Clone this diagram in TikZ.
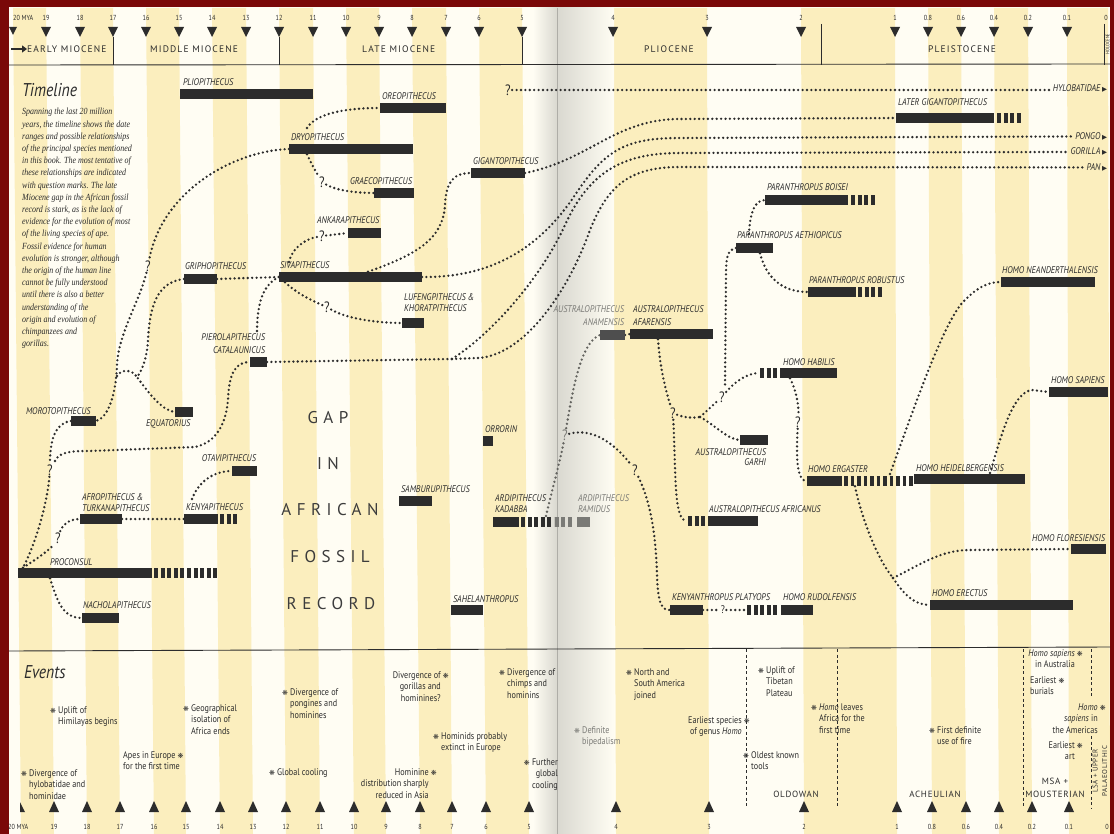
\documentclass[tikz,border=0pt]{standalone}
\usepackage{fontspec}
\setmainfont{PT Sans}
\newfontfamily\labfont[FakeStretch=0.85]{PT Sans}
\newfontfamily\bodyfont[FakeStretch=0.85]{Liberation Serif}
\newfontfamily\capfont[LetterSpace=12]{PT Sans}
\newfontfamily\indfont[LetterSpace=8]{PT Sans}
\newfontfamily\gapfont[LetterSpace=32]{PT Sans}
\newfontfamily\symfont{DejaVu Sans}
\usetikzlibrary{arrows.meta}
\pgfdeclarelayer{back}\pgfdeclarelayer{mid}
\pgfsetlayers{back,mid,main}
\definecolor{ink}{HTML}{2C2C2C}
\definecolor{gapink}{HTML}{3C3C3C}
\definecolor{greyink}{HTML}{7A7A76}
\definecolor{anamcol}{HTML}{4E4E4E}
\definecolor{ylw}{HTML}{FBEEBE}
\definecolor{wht}{HTML}{FFFDF3}
\definecolor{foldc}{HTML}{D9D8D0}
\definecolor{framec}{HTML}{7A0808}
\newcommand{\evs}{{\symfont\fontsize{7}{7}\selectfont\char"274B}}
\newcommand{\tri}{{\symfont\fontsize{6.5}{6.5}\selectfont\char"25B6}}
\newcommand{\Lft}[2][11.8]{\vtop{\baselineskip=#1pt\lineskiplimit=-20pt\lineskip=0pt\halign{##\hfil\cr#2\crcr}}}
\newcommand{\Rgt}[2][11.8]{\vtop{\baselineskip=#1pt\lineskiplimit=-20pt\lineskip=0pt\halign{\hfil##\cr#2\crcr}}}
\newcommand{\Ctr}[2][11.8]{\vtop{\baselineskip=#1pt\lineskiplimit=-20pt\lineskip=0pt\halign{\hfil##\hfil\cr#2\crcr}}}
\newcommand{\mybar}[5][]{\node[barstyle,#1,minimum width={(#4)-(#3)}] (#2) at ({((#3)+(#4))/2},#5) {};}
\begin{document}
\begin{tikzpicture}[x=1pt,y=-1pt,
  barstyle/.style={fill=ink,draw=none,inner sep=0pt,outer sep=0pt,minimum height=10.5pt},
  dashbar/.style={draw=ink,line width=10.5pt,dash pattern=on 4pt off 2.6pt},
  link/.style={draw=ink,line width=2.6pt,line cap=round,dash pattern=on 0pt off 4.4pt},
  lab/.style={inner sep=0pt,outer sep=1pt,font=\labfont\itshape\fontsize{9.7}{11}\selectfont,text=ink,anchor=base west},
  qm/.style={inner sep=1.2pt,font=\labfont\fontsize{15}{15}\selectfont,text=ink},
  ev/.style={inner sep=0pt,font=\labfont\fontsize{9.6}{11.8}\selectfont,text=ink,anchor=base west},
  num/.style={inner sep=0pt,font=\labfont\fontsize{7.3}{7.3}\selectfont,text=ink,anchor=base},
  epoch/.style={inner sep=0pt,font=\capfont\fontsize{9.5}{11}\selectfont,text=ink,anchor=base west},
  indus/.style={inner sep=0pt,font=\indfont\fontsize{9}{11}\selectfont,text=ink,anchor=base},
  gapstyle/.style={inner sep=0pt,font=\gapfont\fontsize{17}{17}\selectfont,text=gapink,anchor=base},
  evline/.style={draw=ink,line width=0.7pt,dash pattern=on 3pt off 2.5pt},
  hrule/.style={draw=ink,line width=0.9pt},
]
\useasboundingbox (0,0) rectangle (1114,834);
\begin{pgfonlayer}{back}
\fill[wht] (0,0) rectangle (1114,834);
\foreach \a/\b/\c/\d in {13/46/21/54,80/113/87/120,146/179/154/186,212/246/220/253,279/313/286/320,346/379/354/386,412/446/420/452,479/522/486/529,613/707/616/709,801/895/804/897,928/961/932/966,994/1028/999/1032,1067/1108/1069/1110}
  \fill[ylw] (\a,8) -- (\b,8) -- (\d,834) -- (\c,834) -- cycle;
\shade[left color=wht,right color=foldc] (533,8) rectangle (557,834);
\shade[left color=foldc,right color=wht] (557,8) rectangle (614,834);
\draw[foldc!80!black,line width=0.5pt] (557,8) -- (557,834);
\end{pgfonlayer}

% frame
\fill[framec] (0,0) rectangle (1114,7);
\fill[framec] (0,0) rectangle (9,834);
\fill[framec] (1110,0) rectangle (1114,834);

% header
\fill[ink] (9,27) -- (17,27) -- (13,35) -- cycle;
\node[num,anchor=base west] (top20) at (13,21) {20 MYA};
\foreach \x/\t [count=\i] in {46/19,80/18,113/17,146/16,179/15,212/14,246/13,279/12,313/11,346/10,379/9,412/8,446/7,479/6,522/5,613/4,707/3,801/2,895/1,928/0.8,961/0.6,994/0.4,1028/0.2,1067/0.1} {
  \fill[ink] (\x-5,27) -- (\x+5,27) -- (\x,37) -- cycle;
  \node[num] (tn\i) at (\x,21) {\t};
}
\node[num] (tn0) at (1106,21) {0};
\draw[hrule] (113,37) -- (113,65);
\draw[hrule] (279,37) -- (279,65);
\draw[hrule] (522,37) -- (522,65);
\draw[hrule] (821,24) -- (821,65);
\draw[hrule] (1104,24) -- (1104,65);
\draw[hrule] (9,65) -- (1110,64);
\node[inner sep=0pt,rotate=90,font=\labfont\fontsize{5}{5}\selectfont,text=ink] (holo) at (1107.5,44) {HOLOCENE};
\coordinate (arrs) at (11,49);
\node[epoch,anchor=west] (early) at (27,49) {EARLY MIOCENE};
\draw[ink,line width=2.2pt,-{Triangle[length=5pt,width=7pt]}] (arrs) -- (early.west);
\node[epoch,anchor=west] (middle) at (150,49) {MIDDLE MIOCENE};
\node[epoch,anchor=west] (late) at (362,49) {LATE MIOCENE};
\node[epoch,anchor=west] (plio) at (644,49) {PLIOCENE};
\node[epoch,anchor=west] (pleist) at (928,49) {PLEISTOCENE};

% separator and bottom scale
\draw[hrule] (9,651) -- (560,649) -- (1110,647);
\fill[ink] (20,812) -- (25,812) -- (20,802) -- cycle;
\node[num,anchor=base west] (bot20) at (8,829) {20 MYA};
\foreach \x/\t [count=\i] in {54/19,87/18,120/17,154/16,186/15,220/14,253/13,286/12,320/11,354/10,386/9,420/8,452/7,486/6,529/5,616/4,709/3,804/2,897/1,932/0.8,966/0.6,999/0.4,1032/0.2,1069/0.1} {
  \fill[ink] (\x-5,812) -- (\x+5,812) -- (\x,801) -- cycle;
  \node[num] (bn\i) at (\x,829) {\t};
}
\node[num] (bn0) at (1107,829) {0};

% titles and text
\node[anchor=base west,inner sep=0pt,font=\labfont\itshape\fontsize{18.5}{18}\selectfont,text=ink] (ttl) at (22,97) {Timeline};
\node[anchor=base west,inner sep=0pt,font=\labfont\itshape\fontsize{18.5}{18}\selectfont,text=ink] (evttl) at (24,678) {Events};
\node[anchor=base west,inner sep=0pt,font=\bodyfont\itshape\fontsize{9.4}{12.2}\selectfont,text=ink] (body) at (22,115) {\Lft[12.2]{Spanning the last 20 million\cr years, the timeline shows the date\cr ranges and possible relationships\cr of the principal species mentioned\cr in this book. The most tentative of\cr these relationships are indicated\cr with question marks. The late\cr Miocene gap in the African fossil\cr record is stark, as is the lack of\cr evidence for the evolution of most\cr of the living species of ape.\cr Fossil evidence for human\cr evolution is stronger, although\cr the origin of the human line\cr cannot be fully understood\cr until there is also a better\cr understanding of the\cr origin and evolution of\cr chimpanzees and\cr gorillas.}};

% gap text
\node[gapstyle] (g1) at (328,423) {GAP};
\node[gapstyle] (g2) at (328,469) {IN};
\node[gapstyle] (g3) at (330,515) {AFRICAN};
\node[gapstyle] (g4) at (330,562) {FOSSIL};
\node[gapstyle] (g5) at (331,609) {RECORD};

% bars
\mybar{plio}{180}{313}{94}
\mybar{oreo}{380}{446}{108}
\mybar{dryo}{289}{413}{149}
\mybar{graeco}{374}{414}{193}
\mybar{giganto}{471}{525}{173}
\mybar{ankara}{348}{381}{233}
\mybar{gripho}{184}{217}{279}
\mybar{siva}{279}{422}{277}
\mybar{lufeng}{402}{424}{323}
\mybar{piero}{250}{267}{362}
\mybar{moroto}{71}{96}{421}
\mybar{equat}{175}{193}{412}
\mybar{otavi}{232}{257}{471}
\mybar{afro}{80}{122}{519}
\mybar{kenya}{184}{218}{519}
\mybar{procon}{18}{152}{573}
\mybar{nachola}{82}{119}{618}
\mybar{orrorin}{483}{493}{441}
\mybar{sambu}{399}{432}{501}
\mybar{sahel}{451}{483}{610}
\mybar{kadabba}{493}{519}{522}
\mybar[fill=greyink]{ramidus}{577}{590}{522}
\mybar[fill=anamcol]{anam}{600}{625}{335}
\mybar{afar}{630}{713}{334}
\mybar{lgig}{896}{994}{118}
\mybar{boisei}{765}{848}{200}
\mybar{aethio}{736}{773}{248}
\mybar{robust}{808}{856}{292}
\mybar{habilis}{780}{837}{373}
\mybar{garhi}{740}{768}{440}
\mybar{african}{708}{758}{521}
\mybar{ergaster}{807}{842}{481}
\mybar{heidel}{914}{1025}{479}
\mybar{neander}{1001}{1095}{282}
\mybar{sapiens}{1049}{1108}{392}
\mybar{flores}{1071}{1106}{549}
\mybar{erectus}{930}{1073}{605}
\mybar{kenyan}{670}{703}{610}
\mybar{rudolf}{781}{813}{610}

% dashed continuations
\draw[dashbar] ([xshift=2pt]procon.east) -- ++(64,0);
\draw[dashbar] ([xshift=2pt]kenya.east) -- ++(18,0);
\draw[dashbar] ([xshift=3pt]lgig.east) -- ++(24,0);
\draw[dashbar] ([xshift=3pt]boisei.east) -- ++(24,0);
\draw[dashbar] ([xshift=2pt]robust.east) -- ++(24,0);
\draw[dashbar] ([xshift=2pt]kadabba.east) -- ++(33,0);
\draw[dashbar,draw=greyink,dash phase=-0.6pt] ([xshift=35pt]kadabba.east) -- ([xshift=-3pt]ramidus.west);
\draw[dashbar] ([xshift=-20pt]habilis.west) -- ([xshift=-2pt]habilis.west);
\draw[dashbar] ([xshift=-20pt]african.west) -- ([xshift=-2pt]african.west);
\draw[dashbar] ([xshift=-34pt]rudolf.west) -- ([xshift=-2pt]rudolf.west);
\draw[dashbar,dash pattern=on 3.6pt off 2.9pt] ([xshift=2pt]ergaster.east) -- ++(70,0);

% labels
\node[lab] (tplio) at (182,86) {PLIOPITHECUS};
\node[lab] (toreo) at (381,100) {OREOPITHECUS};
\node[lab] (tdryo) at (290,141) {DRYOPITHECUS};
\node[lab] (tgraeco) at (349,185) {GRAECOPITHECUS};
\node[lab] (tgiganto) at (472,165) {GIGANTOPITHECUS};
\node[lab] (tankara) at (316,224) {ANKARAPITHECUS};
\node[lab] (tgripho) at (184,270) {GRIPHOPITHECUS};
\node[lab] (tsiva) at (279,269) {SIVAPITHECUS};
\node[lab] (tlufeng) at (403,301) {\Lft[10.5]{LUFENGPITHECUS \&\cr KHORATPITHECUS}};
\node[lab,anchor=base east] (tpiero) at (266,341) {\Rgt[12.3]{PIEROLAPITHECUS\cr CATALAUNICUS}};
\node[lab] (tmoroto) at (25,414) {MOROTOPITHECUS};
\node[lab] (tequat) at (145,426) {EQUATORIUS};
\node[lab,anchor=base east] (totavi) at (257,461) {OTAVIPITHECUS};
\node[lab] (tafro) at (81,500) {\Lft[11]{AFROPITHECUS \&\cr TURKANAPITHECUS}};
\node[lab] (tkenya) at (185,510) {KENYAPITHECUS};
\node[lab] (tprocon) at (49,565) {PROCONSUL};
\node[lab] (tnachola) at (82,608) {NACHOLAPITHECUS};
\node[lab] (torrorin) at (484,432) {ORRORIN};
\node[lab] (tsambu) at (400,492) {SAMBURUPITHECUS};
\node[lab] (tsahel) at (452,602) {SAHELANTHROPUS};
\node[lab] (tkadabba) at (494,501) {\Lft[11.7]{ARDIPITHECUS\cr KADABBA}};
\node[lab,text=greyink] (tramidus) at (577,501) {\Lft[11.7]{ARDIPITHECUS\cr RAMIDUS}};
\node[lab,text=greyink,anchor=base east] (tanam) at (625,313) {\Rgt[12.5]{AUSTRALOPITHECUS\cr ANAMENSIS}};
\node[lab] (tafar) at (632,313) {\Lft[12.5]{AUSTRALOPITHECUS\cr AFARENSIS}};
\node[lab,anchor=base east] (thylo) at (1108,92) {HYLOBATIDAE\,\tri};
\node[lab] (tlgig) at (897,106) {LATER GIGANTOPITHECUS};
\node[lab,anchor=base east] (tpongo) at (1108,139.5) {PONGO\,\tri};
\node[lab,anchor=base east] (tgorilla) at (1108,155) {GORILLA\,\tri};
\node[lab,anchor=base east] (tpan) at (1108,170.5) {PAN\,\tri};
\node[lab] (tboisei) at (766,191) {PARANTHROPUS BOISEI};
\node[lab] (taethio) at (736,239) {PARANTHROPUS AETHIOPICUS};
\node[lab] (trobust) at (808,284) {PARANTHROPUS ROBUSTUS};
\node[lab] (tneander) at (1001,274) {HOMO NEANDERTHALENSIS};
\node[lab] (thabilis) at (782,365) {HOMO HABILIS};
\node[lab] (tsapiens) at (1050,383) {HOMO SAPIENS};
\node[lab,anchor=base east] (tgarhi) at (767,455) {\Rgt[10.7]{AUSTRALOPITHECUS\cr GARHI}};
\node[lab] (tergaster) at (807,472) {HOMO ERGASTER};
\node[lab] (theidel) at (915,471) {HOMO HEIDELBERGENSIS};
\node[lab] (tafrican) at (708,512) {AUSTRALOPITHECUS AFRICANUS};
\node[lab,anchor=base east] (tflores) at (1106,541) {HOMO FLORESIENSIS};
\node[lab] (terectus) at (931,596) {HOMO ERECTUS};
\node[lab] (tkenyan) at (671,600) {KENYANTHROPUS PLATYOPS};
\node[lab] (trudolf) at (782,600) {HOMO RUDOLFENSIS};

% question marks
\node[qm] (q1) at (148,266) {?};
\node[qm] (q2) at (50,470) {?};
\node[qm] (q3) at (58,538) {?};
\node[qm] (q4) at (322,182) {?};
\node[qm] (q5) at (322,236) {?};
\node[qm] (q6) at (327,307) {?};
\node[qm] (q7) at (508,90) {?};
\node[qm,text=greyink] (q8) at (565,435) {?};
\node[qm] (q9) at (635,470) {?};
\node[qm] (q10) at (673,413) {?};
\node[qm] (q11) at (722,397) {?};
\node[qm] (q12) at (798,422) {?};
\node[qm,font=\labfont\fontsize{11}{11}\selectfont] (q13) at (723,610) {?};

% junction points
\coordinate (ja) at (117,376);
\coordinate (jb) at (137,377);
\coordinate (k1) at (55,461);
\coordinate (k2) at (192,499);
\coordinate (s1) at (289,262);
\coordinate (s2) at (257,333);
\coordinate (d1) at (307,128);
\coordinate (j2) at (452,359);
\coordinate (k3) at (546,516);
\coordinate (j3) at (700,417);
\coordinate (hd) at (759,373);
\coordinate (ad) at (687,521);
\coordinate (j4) at (725,387);
\coordinate (a1) at (749,234);
\coordinate (e1) at (890,474);
\coordinate (h1) at (990,473);
\coordinate (j5) at (893,578);
\coordinate (rd) at (746,610);

\begin{pgfonlayer}{mid}
\draw[link] (dryo.west) .. controls (232,151) and (162,192) .. (q1);
\draw[link] (q1) .. controls (140,300) and (118,335) .. (117,365) .. controls (116,395) and (108,418) .. (moroto.east);
\draw[link] (ja) .. controls (121,369) and (132,369) .. (jb);
\draw[link] (gripho.west) .. controls (160,282) and (150,300) .. (148,340) .. controls (147,360) and (141,372) .. (jb) .. controls (150,395) and (163,411) .. (equat.west);
\draw[link] (moroto.west) .. controls (55,423) and (50,440) .. (q2);
\draw[link] (q2) .. controls (47,505) and (35,545) .. ([xshift=5pt]procon.north west);
\draw[link] (k1) .. controls (59,452) and (70,451) .. (90,451) -- (195,447) .. controls (215,443) and (226,425) .. (228,400) .. controls (229,372) and (236,362) .. (piero.west);
\draw[link] ([xshift=5pt]procon.north west) .. controls (35,560) and (50,550) .. (q3);
\draw[link] (q3) .. controls (62,526) and (68,519) .. (afro.west);
\draw[link] (afro.east) -- (kenya.west);
\draw[link] (k2) .. controls (198,483) and (212,471) .. (otavi.west);
\draw[link] ([xshift=32pt]procon.south west) .. controls (57,600) and (62,618) .. (nachola.west);
\draw[link] (gripho.east) -- (siva.west);
\draw[link] (s1) .. controls (292,248) and (305,239) .. (q5);
\draw[link] (q5) -- (ankara.west);
\draw[link] ([xshift=6pt]siva.south west) .. controls (295,292) and (310,300) .. (q6);
\draw[link] (q6) .. controls (345,318) and (375,323) .. (lufeng.west);
\draw[link] (siva.west) .. controls (262,285) and (257,305) .. (s2);
\draw[link] ([xshift=89pt]siva.north west) .. controls (415,255) and (443,240) .. (445,205) .. controls (446,180) and (455,173) .. (giganto.west);
\draw[link] (d1) .. controls (315,115) and (340,108) .. (oreo.west);
\draw[link] ([xshift=18pt]dryo.south west) .. controls (312,165) and (316,172) .. (q4);
\draw[link] (q4) .. controls (335,190) and (355,193) .. (graeco.west);
\draw[link] (giganto.east) .. controls (590,160) and (615,119) .. (680,119) -- (lgig.west);
\draw[link,shorten >=2pt] (siva.east) .. controls (500,278) and (545,240) .. (575,195) .. controls (605,150) and (625,138) .. (680,138) -- (tpongo.west);
\draw[link] (piero.east) -- (j2) -- (478,358);
\draw[link,shorten >=2pt] (478,358) .. controls (520,356) and (565,300) .. (590,230) .. controls (608,185) and (630,167) .. (680,167) -- (tpan.west);
\draw[link,shorten >=2pt] (j2) .. controls (490,335) and (540,280) .. (565,225) .. controls (590,170) and (625,153) .. (680,153) -- (tgorilla.west);
\draw[link,shorten >=2pt] (q7) -- (q7 -| thylo.west);
\draw[link,draw=greyink!80!black] (k3) .. controls (552,490) and (560,462) .. (q8);
\draw[link,draw=greyink!80!black] (q8) .. controls (572,395) and (580,342) .. (anam.west);
\draw[link] (q8) .. controls (590,428) and (612,440) .. (q9);
\draw[link] (q9) .. controls (652,505) and (656,540) .. (657,575) .. controls (658,605) and (662,610) .. (kenyan.west);
\draw[link] (anam.east) -- (afar.west);
\draw[link] ([xshift=28pt]afar.south west) .. controls (660,370) and (667,395) .. (q10);
\draw[link] (q10) .. controls (685,418) and (693,418) .. (j3);
\draw[link] (j3) .. controls (715,425) and (728,440) .. (garhi.west);
\draw[link] (j3) .. controls (708,410) and (714,404) .. (q11);
\draw[link] (q11) .. controls (732,385) and (745,373) .. (hd);
\draw[link] (q10) .. controls (676,480) and (674,521) .. (ad);
\draw[link] (aethio.west) .. controls (727,250) and (726,258) .. (726,275) -- (j4);
\draw[link] (a1) .. controls (750,212) and (755,200) .. (boisei.west);
\draw[link] ([xshift=24pt]aethio.south west) .. controls (768,285) and (790,292) .. (robust.west);
\draw[link] ([xshift=10pt]habilis.south west) .. controls (796,390) and (799,405) .. (q12);
\draw[link] (q12) .. controls (796,460) and (797,481) .. (ergaster.west);
\draw[link] (e1) .. controls (915,405) and (945,318) .. (965,300) .. controls (978,287) and (988,282) .. (neander.west);
\draw[link] (h1) .. controls (1000,440) and (1012,392) .. (1032,390) -- (sapiens.west);
\draw[link] ([xshift=48pt]ergaster.south west) .. controls (862,520) and (878,560) .. (j5);
\draw[link] (j5) .. controls (920,565) and (940,550) .. (970,550) -- (flores.west);
\draw[link] (j5) .. controls (905,596) and (915,605) .. (erectus.west);
\draw[link] (kenyan.east) -- (q13);
\draw[link] (q13) -- (rd);
\end{pgfonlayer}

% events
\draw[evline] (746,649) -- (746,808);
\draw[evline] (837,649) -- (837,808);
\draw[evline] (1023,649) -- (1023,808);
\draw[evline] (1091,649) -- (1091,698);
\draw[evline] (1091,736) -- (1091,808);
\node[ev] (ev1) at (58,713) {\Lft{\llap{\evs\ }Uplift of\cr Himilayas begins}};
\node[ev] (ev2) at (29,776) {\Lft{\llap{\evs\ }Divergence of\cr hylobatidae and\cr hominidae}};
\node[ev] (ev3) at (191,711) {\Lft{\llap{\evs\ }Geographical\cr isolation of\cr Africa ends}};
\node[ev] (ev4) at (123,758) {\Lft{Apes in Europe\rlap{\ \evs}\cr for the first time}};
\node[ev] (ev5) at (290,695) {\Lft{\llap{\evs\ }Divergence of\cr pongines and\cr hominines}};
\node[ev] (ev6) at (277,775) {\llap{\evs\ }Global cooling};
\node[ev,anchor=base east] (ev7) at (441,678) {\Rgt{Divergence of\rlap{\ \evs}\cr gorillas and\cr hominines?}};
\node[ev] (ev8) at (441,739) {\Lft{\llap{\evs\ }Hominids probably\cr extinct in Europe}};
\node[ev,anchor=base east] (ev9) at (429,775) {\Rgt{Hominine\rlap{\ \evs}\cr distribution sharply\cr reduced in Asia}};
\node[ev] (ev10) at (507,675) {\Lft{\llap{\evs\ }Divergence of\cr chimps and\cr hominins}};
\node[ev,anchor=base east] (ev11) at (558,765) {\Rgt{\evs\ Further\cr global\cr cooling}};
\node[ev,text=greyink] (ev12) at (582,733) {\Lft{\llap{\evs\ }Definite\cr bipedalism}};
\node[ev] (ev13) at (634,675) {\Lft{\llap{\evs\ }North and\cr South America\cr joined}};
\node[ev,anchor=base east] (ev14) at (742,723) {\Rgt{Earliest species\rlap{\ \evs}\cr of genus \textit{Homo}}};
\node[ev] (ev15) at (766,673) {\Lft{\llap{\evs\ }Uplift of\cr Tibetan\cr Plateau}};
\node[ev] (ev16) at (751,758) {\Lft{\llap{\evs\ }Oldest known\cr tools}};
\node[ev] (ev17) at (819,710) {\Lft{\llap{\evs\ }\textit{Homo} leaves\cr Africa for the\cr first time}};
\node[ev] (ev18) at (937,733) {\Lft{\llap{\evs\ }First definite\cr use of fire}};
\node[ev,anchor=base east] (ev19) at (1075,656) {\Rgt{\textit{Homo sapiens}\rlap{\ \evs}\cr in Australia}};
\node[ev] (ev20) at (1030,683) {\Lft{Earliest\rlap{\ \evs}\cr burials}};
\node[ev,anchor=base east] (ev21) at (1098,710) {\Rgt{\textit{Homo}\rlap{\ \evs}\cr \textit{sapiens} in\cr the Americas}};
\node[ev,anchor=base east] (ev22) at (1075,748) {\Rgt{Earliest\rlap{\ \evs}\cr art}};
\node[indus] (old) at (796,797) {OLDOWAN};
\node[indus] (ach) at (935,797) {ACHEULIAN};
\node[indus] (msa) at (1055,784) {\Ctr[13]{MSA +\cr MOUSTERIAN}};
\node[inner sep=0pt,font=\indfont\fontsize{7}{8}\selectfont,text=ink,rotate=90] (lsa) at (1100,771) {\Ctr[9.5]{LSA + UPPER\cr PALAEOLITHIC}};
\end{tikzpicture}
\end{document}
